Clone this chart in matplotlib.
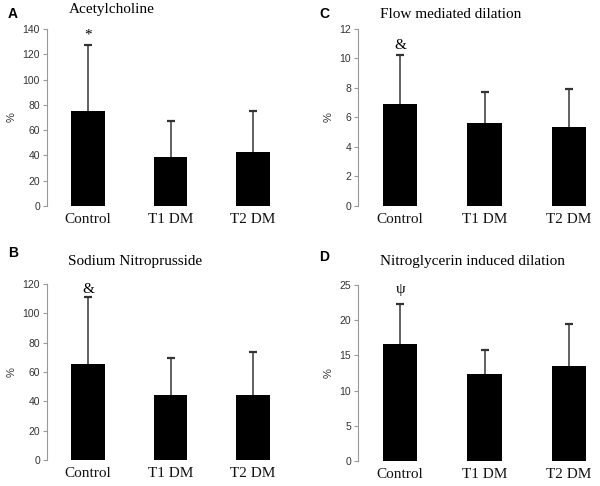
import matplotlib.pyplot as plt
import numpy as np

# data
groups = ["Control", "T1 DM", "T2 DM"]

ach_mean = [75, 39, 43]
ach_top = [127.5, 67.5, 75]

snp_mean = [65.5, 44, 44.5]
snp_top = [111, 69.5, 73.5]

fmd_mean = [6.9, 5.6, 5.35]
fmd_top = [10.25, 7.75, 7.9]

ntg_mean = [16.6, 12.3, 13.5]
ntg_top = [22.3, 15.7, 19.5]

W, H = 600, 486
serif = ["Liberation Serif", "DejaVu Serif"]
sans = ["Liberation Sans", "DejaVu Sans"]


def panel(rect, letter, letter_y, title, title_y, mean, top, ymax, step, mark, mark_y):
    # rect is (left, top, right, bottom) in pixels
    l, t, r, b = rect
    ax = fig.add_axes([l / W, 1 - b / H, (r - l) / W, (b - t) / H])
    x = np.arange(len(groups))
    ax.bar(x, mean, width=0.41, color="black", zorder=2)
    # upper error bars only
    ax.vlines(x, mean, top, color="#555555", lw=1.3, zorder=1)
    ax.plot(x, top, ls="none", marker="_", ms=6, mew=1.6, color="#333333", zorder=1)
    ax.set_xlim(-0.5, 2.5)
    ax.set_ylim(0, ymax)
    ax.set_yticks(np.arange(0, ymax + step / 2, step))
    ax.set_xticks(x)
    ax.set_xticklabels(groups, family=serif, fontsize=11)
    for s in ["top", "right", "bottom"]:
        ax.spines[s].set_visible(False)
    ax.spines["left"].set_color("#999999")
    ax.tick_params(axis="x", length=0, pad=5, colors="#111111")
    ax.tick_params(axis="y", length=3, width=0.8, color="#999999", labelsize=7.5,
                   labelcolor="#333333", pad=2)
    for lab in ax.get_yticklabels():
        lab.set_family(sans)
    ax.set_ylabel("%", family=sans, fontsize=8, labelpad=4, color="#333333")
    ax.text(-0.24, ymax * (b - title_y) / (b - t), title, family=serif, fontsize=11,
            va="center", ha="left", clip_on=False)
    fig.text((l - 39) / W, 1 - letter_y / H, letter, family=sans, fontsize=10,
             fontweight="bold", va="center", ha="left")
    ax.text(0, mark_y, mark, family=serif, fontsize=11, ha="center", va="center")
    return ax


fig = plt.figure(figsize=(6, 4.86), dpi=100)

panel((47, 29, 294, 206), "A", 14, "Acetylcholine", 10,
      ach_mean, ach_top, 140, 20, "*", 135)
panel((47, 284, 294, 460), "B", 253, "Sodium Nitroprusside", 261,
      snp_mean, snp_top, 120, 20, "&", 116)
panel((358, 29, 611, 206), "C", 14, "Flow mediated dilation", 15,
      fmd_mean, fmd_top, 12, 2, "&", 10.9)
panel((358, 285, 611, 461), "D", 257, "Nitroglycerin induced dilation", 262,
      ntg_mean, ntg_top, 25, 5, "\u03c8", 24.3)

fig.savefig("out.png", dpi=100)
